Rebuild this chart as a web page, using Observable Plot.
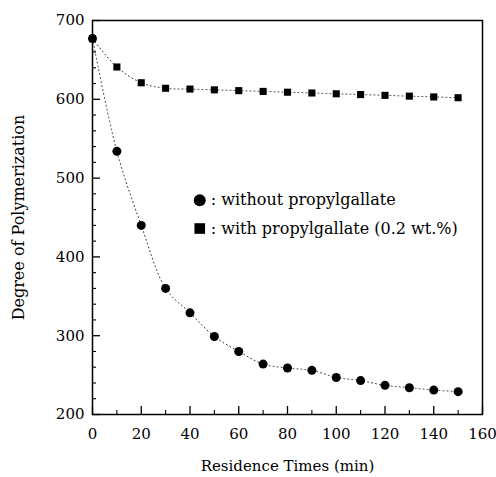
<!DOCTYPE html>
<html>
<head>
<meta charset="utf-8">
<script src="https://cdn.jsdelivr.net/npm/d3@7"></script>
<script src="https://cdn.jsdelivr.net/npm/@observablehq/plot@0.6"></script>
<style>
  body { margin: 0; background: #fff; }
  #chart svg { display: block; }
</style>
</head>
<body>
<div id="chart"></div>
<script>
const times = [0, 10, 20, 30, 40, 50, 60, 70, 80, 90, 100, 110, 120, 130, 140, 150];
const withoutPG = [677, 534, 440, 360, 329, 299, 280, 264, 259, 256, 247, 243, 237, 234, 231, 229];
const withPG = [677, 641, 621, 614, 613, 612, 611, 610, 609, 608, 607, 606, 605, 604, 603, 602];
const xTicks = [0, 20, 40, 60, 80, 100, 120, 140, 160];
const xMinorTicks = [10, 30, 50, 70, 90, 110, 130, 150];
const yTicks = [200, 300, 400, 500, 600, 700];
const yMinorTicks = [220, 240, 260, 280, 320, 340, 360, 380, 420, 440, 460, 480, 520, 540, 560, 580, 620, 640, 660, 680];
const legendLabels = [": without propylgallate", ": with propylgallate (0.2 wt.%)"];
const legendSymbols = ["circle", "square"];
const legendX = [44, 44];
const legendY = [472, 436];

const dataWithout = times.map((t, i) => ({t, v: withoutPG[i]}));
const dataWith = times.map((t, i) => ({t, v: withPG[i]}));
const legend = legendLabels.map((label, i) => ({label, symbol: legendSymbols[i], x: legendX[i], y: legendY[i]}));

const font = "'DejaVu Serif', 'Liberation Serif', serif";
const xDomain = [0, 160], yDomain = [200, 700];
const W = 496, H = 477, ML = 92, MR = 14, MT = 20, MB = 63;

const chart = Plot.plot({
  width: W,
  height: H,
  marginLeft: ML,
  marginRight: MR,
  marginTop: MT,
  marginBottom: MB,
  style: {fontFamily: font, fontSize: "15px", color: "#000", background: "#fff"},
  x: {domain: xDomain},
  y: {domain: yDomain},
  marks: [
    Plot.frame({stroke: "#000", strokeWidth: 1.5}),
    Plot.axisX({ticks: xTicks, tickSize: 0, tickPadding: 14, fontSize: 15, label: null}),
    Plot.axisY({ticks: yTicks, tickSize: 0, tickPadding: 8, fontSize: 15, label: null}),
    Plot.axisX({ticks: xTicks, tickSize: 8, text: null, label: null, anchor: "bottom", dy: -8, stroke: "#000", strokeWidth: 1.3}),
    Plot.axisX({ticks: xMinorTicks, tickSize: 4, text: null, label: null, anchor: "bottom", dy: -4, stroke: "#000", strokeWidth: 1.1}),
    Plot.axisY({ticks: yTicks, tickSize: 8, text: null, label: null, anchor: "left", dx: 8, stroke: "#000", strokeWidth: 1.3}),
    Plot.axisY({ticks: yMinorTicks, tickSize: 4, text: null, label: null, anchor: "left", dx: 4, stroke: "#000", strokeWidth: 1.1}),
    Plot.text(["Residence Times (min)"], {frameAnchor: "bottom", dy: 56, fontSize: 15, fontFamily: font}),
    Plot.text(["Degree of Polymerization"], {frameAnchor: "left", textAnchor: "middle", dx: -74, rotate: -90, fontSize: 16, fontFamily: font}),
    Plot.line(dataWith, {x: "t", y: "v", curve: "catmull-rom", stroke: "#333", strokeWidth: 1, strokeDasharray: "1,3"}),
    Plot.line(dataWithout, {x: "t", y: "v", curve: "catmull-rom", stroke: "#333", strokeWidth: 1, strokeDasharray: "1,3"}),
    Plot.dot(dataWith, {x: "t", y: "v", symbol: "square", r: 4, fill: "#000"}),
    Plot.dot(dataWithout, {x: "t", y: "v", symbol: "circle", r: 4.5, fill: "#000"}),
    Plot.dot(legend, {x: "x", y: "y", symbol: "symbol", r: 6, fill: "#000"}),
    Plot.text(legend, {x: "x", y: "y", text: "label", textAnchor: "start", dx: 11, fontSize: 16, fontFamily: font})
  ]
});
document.getElementById("chart").appendChild(chart);
</script>
</body>
</html>
